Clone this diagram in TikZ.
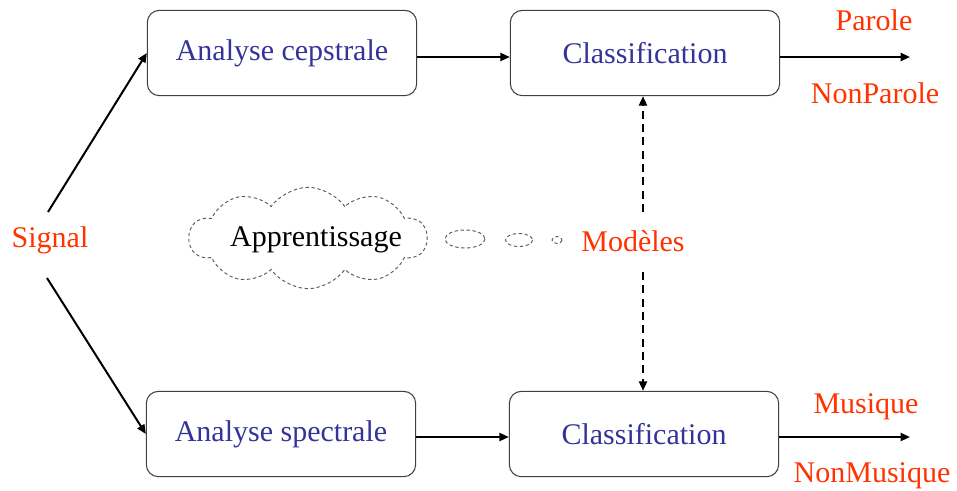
\documentclass[tikz,border=0pt]{standalone}
\usepackage{fontspec}
\setmainfont{Liberation Serif}
\usetikzlibrary{shapes.symbols,arrows.meta}
\definecolor{boxblue}{HTML}{333399}
\definecolor{outred}{HTML}{FF3300}

\begin{document}
\begin{tikzpicture}[x=0.75pt,y=-0.75pt,
	font=\fontsize{22.5}{27}\selectfont,
	bloc/.style={draw=black!75,line width=0.8pt,rounded corners=9pt,
		minimum width=202pt,minimum height=64pt,text=boxblue},
	sortie/.style={text=outred},
	fleche/.style={line width=1.5pt,-{Triangle[length=7pt,width=6pt]}},
	pointille/.style={line width=1.5pt,dash pattern=on 6pt off 4pt,-{Triangle[length=7pt,width=6pt]}},
	nuage/.style={draw=black!65,line width=0.7pt,dash pattern=on 2.5pt off 2pt}]
	\useasboundingbox (0,0) rectangle (957,490);
	% blocs
	\node [bloc] (cep) at (282,53) {Analyse cepstrale};
	\node [bloc] (clh) at (645,53) {Classification};
	\node [bloc] (spe) at (281,434) {Analyse spectrale};
	\node [bloc] (clb) at (644,434) {Classification};
	\node [sortie] (sig) at (50,240) {Signal};
	\node [sortie] (mod) at (633,241) {Modèles};
	\node [sortie] (par) at (874,20) {Parole};
	\node [sortie] (npar) at (875,93) {NonParole};
	\node [sortie] (mus) at (866,407) {Musique};
	\node [sortie] (nmus) at (872,476) {NonMusique};
	% apprentissage
	\node [nuage,cloud,cloud puffs=10,cloud puff arc=110,aspect=2.3,
		minimum width=178pt,minimum height=76pt,inner sep=0pt] (app) at (308,238) {};
	\node (appt) at (316,240) {Apprentissage};
	\draw [nuage] (465,239) ellipse [x radius=20,y radius=9];
	\draw [nuage] (519,240) ellipse [x radius=13.5,y radius=6.5];
	\draw [nuage] (557,240) ellipse [x radius=5,y radius=3.5];
	% liaisons
	\coordinate (sh) at (48,212);
	\coordinate (sb) at (47,278);
	\coordinate (mh) at (643,212);
	\coordinate (mb) at (643,272);
	\coordinate (fh) at (910,57);
	\coordinate (fb) at (910,437);
	\draw [fleche] (sh) -- (cep.west);
	\draw [fleche] (sb) -- (spe.west);
	\draw [fleche] (cep.east |- 0,57) -- (clh.west |- 0,57);
	\draw [fleche] (spe.east |- 0,437) -- (clb.west |- 0,437);
	\draw [fleche] (clh.east |- fh) -- (fh);
	\draw [fleche] (clb.east |- fb) -- (fb);
	\draw [pointille] (mh) -- (mh |- clh.south);
	\draw [pointille] (mb) -- (mb |- clb.north);
\end{tikzpicture}
\end{document}
